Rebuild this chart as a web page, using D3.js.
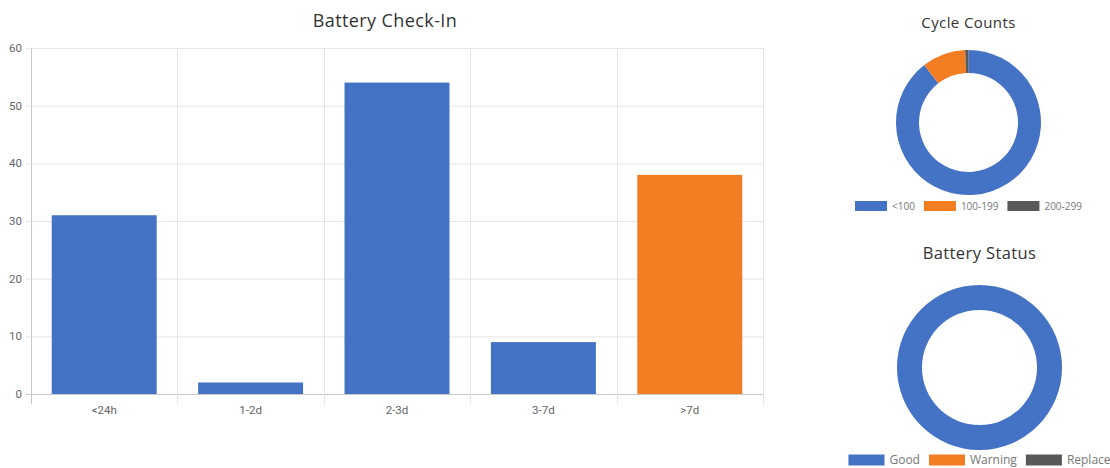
<!DOCTYPE html>
<html>
<head>
<meta charset="utf-8">
<script src="https://cdn.jsdelivr.net/npm/d3@7"></script>
<style>
  body { margin: 0; background: #fff; }
  svg { display: block; font-family: "Open Sans", sans-serif; }
</style>
</head>
<body>
<svg id="chart" width="1110" height="468"></svg>
<script>
// Battery check-in bar data
const checkInCategories = ["<24h", "1-2d", "2-3d", "3-7d", ">7d"];
const checkInValues = [31, 2, 54, 9, 38];
const checkInColors = ["#4472c4", "#4472c4", "#4472c4", "#4472c4", "#f37d22"];
const yTicks = [0, 10, 20, 30, 40, 50, 60];

// Donut data
const cycleLabels = ["<100", "100-199", "200-299"];
const cycleValues = [120, 13, 1];
const statusLabels = ["Good", "Warning", "Replace"];
const statusValues = [134, 0, 0];
const donutColors = ["#4472c4", "#f37d22", "#58595b"];

const svg = d3.select("#chart");

// ---- bar chart ----
const m = { left: 31, right: 763, top: 48, bottom: 394 };

const x = d3.scaleBand()
  .domain(checkInCategories)
  .range([m.left, m.right])
  .paddingInner(0.283)
  .paddingOuter(0.1415);

const y = d3.scaleLinear().domain([0, 60]).range([m.bottom, m.top]);

svg.append("text")
  .attr("x", 385)
  .attr("y", 27)
  .attr("text-anchor", "middle")
  .attr("font-size", 18)
  .attr("letter-spacing", 0.4)
  .attr("fill", "#333")
  .text("Battery Check-In");

// horizontal grid + y tick marks
svg.append("g").selectAll("line")
  .data(yTicks)
  .join("line")
  .attr("x1", m.left - 5).attr("x2", m.right)
  .attr("y1", d => y(d) + 0.5).attr("y2", d => y(d) + 0.5)
  .attr("stroke", d => d === 0 ? "#c8c8c8" : "#e6e6e6");

// vertical grid at band boundaries
const step = x.step();
const bounds = d3.range(checkInCategories.length + 1).map(i => m.left + i * step);
svg.append("g").selectAll("line")
  .data(bounds)
  .join("line")
  .attr("x1", d => Math.round(d) + 0.5).attr("x2", d => Math.round(d) + 0.5)
  .attr("y1", m.top).attr("y2", m.bottom + 10)
  .attr("stroke", (d, i) => i === 0 ? "#c8c8c8" : "#e6e6e6");

// y labels
svg.append("g").selectAll("text")
  .data(yTicks)
  .join("text")
  .attr("x", 22)
  .attr("y", d => y(d) + 4)
  .attr("text-anchor", "end")
  .attr("font-size", 11.5)
  .attr("font-family", "Roboto, sans-serif")
  .attr("fill", "#666")
  .text(d => d);

// bars
svg.append("g").selectAll("rect")
  .data(checkInValues)
  .join("rect")
  .attr("x", (d, i) => x(checkInCategories[i]))
  .attr("width", x.bandwidth())
  .attr("y", d => y(d))
  .attr("height", d => y(0) - y(d))
  .attr("fill", (d, i) => checkInColors[i]);

// x labels
svg.append("g").selectAll("text")
  .data(checkInCategories)
  .join("text")
  .attr("x", d => x(d) + x.bandwidth() / 2)
  .attr("y", 414)
  .attr("text-anchor", "middle")
  .attr("font-size", 11.5)
  .attr("font-family", "Roboto, sans-serif")
  .attr("fill", "#666")
  .text(d => d);

// ---- donuts ----
function donut(opts) {
  const g = svg.append("g");
  g.append("text")
    .attr("x", opts.cx)
    .attr("y", opts.titleY)
    .attr("text-anchor", "middle")
    .attr("font-size", opts.titleSize)
    .attr("letter-spacing", 0.4)
    .attr("fill", "#333")
    .text(opts.title);

  const pie = d3.pie().sort(null).value(d => d);
  const arc = d3.arc().innerRadius(opts.inner).outerRadius(opts.outer);
  g.append("g")
    .attr("transform", `translate(${opts.cx},${opts.cy})`)
    .selectAll("path")
    .data(pie(opts.values))
    .join("path")
    .attr("d", arc)
    .attr("fill", (d, i) => donutColors[i]);

  // legend, laid out from measured text widths and centred on the donut
  const leg = g.append("g");
  const items = leg.selectAll("g")
    .data(opts.labels)
    .join("g");
  items.append("rect")
    .attr("width", opts.boxW).attr("height", opts.boxH)
    .attr("y", -opts.boxH / 2)
    .attr("fill", (d, i) => donutColors[i]);
  items.append("text")
    .attr("x", opts.boxW + 5)
    .attr("y", opts.fontSize * 0.36)
    .attr("font-size", opts.fontSize)
    .attr("fill", "#777")
    .text(d => d);
  let off = 0;
  items.each(function () {
    const w = opts.boxW + 5 + this.querySelector("text").getComputedTextLength();
    d3.select(this).attr("transform", `translate(${off},0)`);
    off += w + opts.gap;
  });
  const total = off - opts.gap;
  leg.attr("transform", `translate(${opts.cx - total / 2},${opts.legendY})`);
}

donut({
  title: "Cycle Counts", cx: 968.5, cy: 122.5, outer: 72.5, inner: 49.5,
  titleY: 28, titleSize: 15,
  values: cycleValues, labels: cycleLabels,
  legendY: 206, boxW: 32, boxH: 10, fontSize: 10, gap: 9
});

donut({
  title: "Battery Status", cx: 979.5, cy: 367.5, outer: 82.5, inner: 57.5,
  titleY: 259, titleSize: 16.5,
  values: statusValues, labels: statusLabels,
  legendY: 460, boxW: 36, boxH: 11, fontSize: 12, gap: 9
});
</script>
</body>
</html>
